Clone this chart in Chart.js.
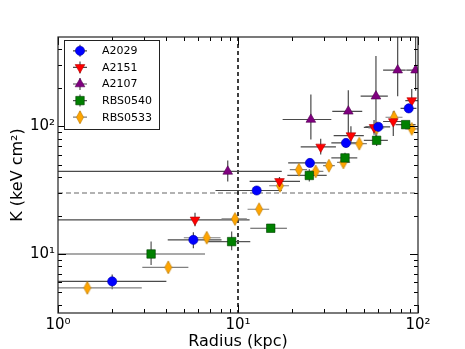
<!DOCTYPE html>
<html>
<head>
<meta charset="utf-8">
<script src="https://cdn.jsdelivr.net/npm/chart.js@4.4.1/dist/chart.umd.min.js"></script>
<style>
body{margin:0;background:#fff}
</style>
</head>
<body>
<canvas id="chart" width="465" height="349"></canvas>
<script>
// radius (kpc), entropy K (keV cm^2), error bar ends
const a2029X   = [2.0, 5.65, 12.7, 25.1, 39.8, 60.2, 88.8];
const a2029Y   = [6.1, 12.9, 31.4, 51.6, 74, 99, 138];
const a2029XLo = [0, 4.07, 7.5, 19, 33, 51, 80];
const a2029XHi = [4.0, 8.1, 17.5, 31, 47, 70, 98];
const a2029YLo = [5.3, 11.1, 29, 48, 68, 93, 127];
const a2029YHi = [6.9, 14.8, 34, 56, 80, 106, 150];

const a2151X   = [5.77, 17.0, 28.8, 42.4, 57, 72.9, 92.3];
const a2151Y   = [18.5, 37, 68.9, 84.5, 98, 109, 159];
const a2151XLo = [0, 11.6, 22.3, 34, 50, 64, 85];
const a2151XHi = [11.6, 22.1, 35, 50, 64, 81, 100];
const a2151YLo = [16.5, 34, 60, 72, 86, 84, 135];
const a2151YHi = [21, 40, 80, 100, 112, 131, 196];

const a2107X   = [8.77, 25.4, 41, 58.4, 77.1, 97];
const a2107Y   = [44.3, 113, 131, 172, 275, 275];
const a2107XLo = [0, 17.7, 33.4, 48, 64, 86];
const a2107XHi = [17.5, 33, 49, 68, 85.5, 110];
const a2107YLo = [37, 78.6, 88.7, 76, 172, 190];
const a2107YHi = [54, 177, 191, 355, 600, 600];

const rbs0540X   = [3.29, 9.22, 15.2, 24.9, 39.3, 58.9, 85.4];
const rbs0540Y   = [10.0, 12.5, 15.9, 41.2, 56.5, 77.6, 103];
const rbs0540XLo = [0, 6.7, 11.7, 18.8, 33, 50, 75];
const rbs0540XHi = [6.56, 11.7, 18.7, 31.1, 46, 68, 97];
const rbs0540YLo = [8.2, 10.7, 15, 37, 51, 70, 96];
const rbs0540YHi = [12.5, 15, 17, 46, 62, 85, 110];

const rbs0533X   = [1.455, 4.1, 6.7, 9.62, 13.1, 17.1, 21.8, 27.0, 32.0, 38.5, 47.2, 58.9, 73.6, 92.3];
const rbs0533Y   = [5.43, 7.86, 13.4, 18.8, 22.4, 34.2, 45.7, 44.3, 49.1, 52.1, 73.1, 97, 117.6, 95.4];
const rbs0533XLo = [0, 2.94, 5.0, 8.1, 11.3, 14.9, 19.4, 24.2, 29.7, 35.5, 43, 53, 66, 85];
const rbs0533XHi = [2.92, 5.3, 8.0, 11.2, 14.9, 19.2, 24.2, 29.8, 34.5, 42, 52, 65, 82, 100];
const rbs0533YLo = [4.9, 7.1, 12.2, 17, 20.5, 31.5, 41, 40.5, 45, 48, 66, 86, 105, 87];
const rbs0533YHi = [6, 8.7, 14.8, 20.5, 24.5, 37, 50, 48, 53, 57, 80, 108, 132, 104];

const xMajor = [1, 10, 100];
const xTickLabels = ['10\u2070', '10\u00b9', '10\u00b2'];
const yMajor = [10, 100];
const yTickLabels = ['10\u00b9', '10\u00b2'];
const vLineX = 10;
const hLineY = 30;

Chart.defaults.font.family = "'DejaVu Sans', sans-serif";
Chart.defaults.color = '#000';

// thin diamond marker
const diamond = document.createElement('canvas');
diamond.width = 10; diamond.height = 15;
(function(){
    const c = diamond.getContext('2d');
    c.beginPath();
    c.moveTo(5, 1); c.lineTo(8.6, 7.5); c.lineTo(5, 14); c.lineTo(1.4, 7.5); c.closePath();
    c.fillStyle = '#ffa500'; c.fill();
    c.strokeStyle = '#b87800'; c.lineWidth = 0.6; c.stroke();
})();

function pts(xs, ys){
    return xs.map((v, i) => ({x: v, y: ys[i]}));
}

function mkSet(label, xs, ys, xLo, xHi, yLo, yHi, style){
    return Object.assign({
        label: label,
        data: pts(xs, ys),
        xLo: xLo, xHi: xHi, yLo: yLo, yHi: yHi,
        borderWidth: 0.6,
        pointBorderWidth: 0.6,
        showLine: false
    }, style);
}

const datasets = [
    mkSet('A2029', a2029X, a2029Y, a2029XLo, a2029XHi, a2029YLo, a2029YHi,
        {pointStyle: 'circle', pointRadius: 4.6, backgroundColor: '#0000ff', borderColor: '#0000b0', errColor: '#4a4a4a'}),
    mkSet('A2151', a2151X, a2151Y, a2151XLo, a2151XHi, a2151YLo, a2151YHi,
        {pointStyle: 'triangle', pointRotation: 180, pointRadius: 5.6, backgroundColor: '#ff0000', borderColor: '#b00000', errColor: '#4a4a4a'}),
    mkSet('A2107', a2107X, a2107Y, a2107XLo, a2107XHi, a2107YLo, a2107YHi,
        {pointStyle: 'triangle', pointRadius: 5.6, backgroundColor: '#800080', borderColor: '#500050', errColor: '#4a4a4a'}),
    mkSet('RBS0540', rbs0540X, rbs0540Y, rbs0540XLo, rbs0540XHi, rbs0540YLo, rbs0540YHi,
        {pointStyle: 'rect', pointRadius: 6, backgroundColor: '#008000', borderColor: '#004000', errColor: '#555555'}),
    mkSet('RBS0533', rbs0533X, rbs0533Y, rbs0533XLo, rbs0533XHi, rbs0533YLo, rbs0533YHi,
        {pointStyle: diamond, pointRadius: 6, backgroundColor: '#ffa500', borderColor: '#b87800', errColor: '#808080'})
];

function minorTicks(lo, hi){
    const out = [];
    for (let d = 1; d <= hi; d *= 10){
        for (let k = 2; k <= 9; k++){
            const v = d * k;
            if (v > lo && v < hi) out.push(v);
        }
    }
    return out;
}

const errorBars = {
    id: 'errorBars',
    beforeDatasetsDraw(chart){
        const {ctx, chartArea: a, scales: {x, y}} = chart;
        ctx.save();
        ctx.beginPath();
        ctx.rect(a.left, a.top, a.right - a.left, a.bottom - a.top);
        ctx.clip();
        // reference lines
        ctx.lineWidth = 1.5;
        ctx.strokeStyle = '#999';
        ctx.setLineDash([5, 3]);
        ctx.beginPath();
        ctx.moveTo(a.left, y.getPixelForValue(hLineY));
        ctx.lineTo(a.right, y.getPixelForValue(hLineY));
        ctx.stroke();
        ctx.strokeStyle = '#000';
        ctx.setLineDash([4, 3]);
        ctx.beginPath();
        ctx.moveTo(x.getPixelForValue(vLineX), a.top);
        ctx.lineTo(x.getPixelForValue(vLineX), a.bottom);
        ctx.stroke();
        ctx.setLineDash([]);
        ctx.lineWidth = 1.2;
        chart.data.datasets.forEach(ds => {
            ctx.strokeStyle = ds.errColor;
            ds.data.forEach((p, i) => {
                const px = x.getPixelForValue(p.x), py = y.getPixelForValue(p.y);
                ctx.beginPath();
                ctx.moveTo(x.getPixelForValue(ds.xLo[i]), py);
                ctx.lineTo(x.getPixelForValue(ds.xHi[i]), py);
                ctx.moveTo(px, y.getPixelForValue(ds.yLo[i]));
                ctx.lineTo(px, y.getPixelForValue(ds.yHi[i]));
                ctx.stroke();
            });
        });
        ctx.restore();
    }
};

const frame = {
    id: 'frame',
    afterDatasetsDraw(chart){
        const {ctx, chartArea: a, scales: {x, y}} = chart;
        ctx.save();
        ctx.strokeStyle = '#000';
        ctx.lineWidth = 1;
        ctx.beginPath();
        xMajor.forEach(v => {
            const px = Math.round(x.getPixelForValue(v)) + 0.5;
            ctx.moveTo(px, a.bottom); ctx.lineTo(px, a.bottom - 8);
            ctx.moveTo(px, a.top); ctx.lineTo(px, a.top + 8);
        });
        minorTicks(x.min, x.max).forEach(v => {
            const px = Math.round(x.getPixelForValue(v)) + 0.5;
            ctx.moveTo(px, a.bottom); ctx.lineTo(px, a.bottom - 4);
            ctx.moveTo(px, a.top); ctx.lineTo(px, a.top + 4);
        });
        yMajor.forEach(v => {
            const py = Math.round(y.getPixelForValue(v)) + 0.5;
            ctx.moveTo(a.left, py); ctx.lineTo(a.left + 8, py);
            ctx.moveTo(a.right, py); ctx.lineTo(a.right - 8, py);
        });
        minorTicks(y.min, y.max).forEach(v => {
            const py = Math.round(y.getPixelForValue(v)) + 0.5;
            ctx.moveTo(a.left, py); ctx.lineTo(a.left + 4, py);
            ctx.moveTo(a.right, py); ctx.lineTo(a.right - 4, py);
        });
        ctx.stroke();
        ctx.strokeStyle = '#222';
        ctx.lineWidth = 1.2;
        ctx.strokeRect(a.left, a.top, a.right - a.left, a.bottom - a.top);
        ctx.restore();
    }
};

const legendBox = {
    id: 'legendBox',
    afterDraw(chart){
        const ctx = chart.ctx;
        ctx.save();
        ctx.fillStyle = '#fff';
        ctx.fillRect(64.5, 40.5, 95, 89);
        ctx.strokeStyle = '#222';
        ctx.lineWidth = 1;
        ctx.strokeRect(64.5, 40.5, 95, 89);
        ctx.font = "11px 'DejaVu Sans'";
        ctx.textBaseline = 'middle';
        chart.data.datasets.forEach((ds, i) => {
            const yy = 50.8 + i * 16.6;
            ctx.strokeStyle = ds.errColor;
            ctx.lineWidth = 1.2;
            ctx.beginPath();
            ctx.moveTo(73, yy); ctx.lineTo(87, yy);
            ctx.moveTo(80, yy - 6); ctx.lineTo(80, yy + 6);
            ctx.stroke();
            ctx.fillStyle = ds.backgroundColor;
            ctx.strokeStyle = ds.borderColor;
            ctx.lineWidth = 0.6;
            Chart.helpers.drawPoint(ctx, {
                pointStyle: ds.pointStyle,
                rotation: ds.pointRotation || 0,
                radius: ds.pointRadius,
                borderWidth: 0.6
            }, 80, yy);
            ctx.fillStyle = '#000';
            ctx.fillText(ds.label, 102, yy + 0.5);
        });
        ctx.restore();
    }
};

new Chart(document.getElementById('chart'), {
    type: 'scatter',
    data: {datasets: datasets},
    options: {
        responsive: false,
        animation: false,
        devicePixelRatio: 1,
        layout: {padding: {top: 37, right: 47, left: 0, bottom: 0}},
        plugins: {legend: {display: false}, tooltip: {enabled: false}},
        scales: {
            x: {
                type: 'logarithmic',
                min: 1, max: 100,
                grid: {display: false, drawTicks: false},
                border: {display: false},
                afterBuildTicks: s => { s.ticks = xMajor.map(v => ({value: v})); },
                afterFit: s => { s.height = 36; },
                ticks: {
                    autoSkip: false, maxRotation: 0, padding: 3,
                    font: {size: 15}, color: '#000',
                    callback: (v, i) => xTickLabels[i]
                },
                title: {display: true, text: 'Radius (kpc)', font: {size: 16}, color: '#000', padding: {top: 0, bottom: -2}}
            },
            y: {
                type: 'logarithmic',
                min: 3.45, max: 500,
                grid: {display: false, drawTicks: false},
                border: {display: false},
                afterBuildTicks: s => { s.ticks = yMajor.map(v => ({value: v})); },
                afterFit: s => { s.width = 58; },
                ticks: {
                    autoSkip: false, padding: 3,
                    font: {size: 15}, color: '#000',
                    callback: (v, i) => yTickLabels[i]
                },
                title: {display: true, text: 'K (keV cm\u00b2)', font: {size: 16}, color: '#000', padding: {top: 8, bottom: 0}}
            }
        }
    },
    plugins: [errorBars, frame, legendBox]
});
</script>
</body>
</html>
